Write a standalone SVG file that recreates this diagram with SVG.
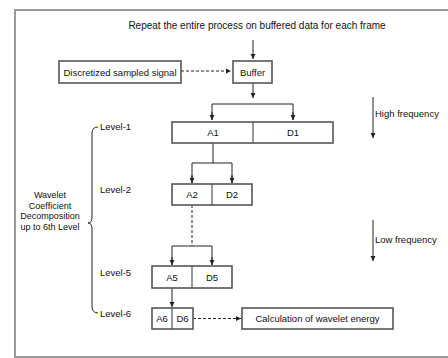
<svg xmlns="http://www.w3.org/2000/svg" width="448" height="358" viewBox="0 0 448 358">
<defs>
<style>
.t{font-family:"Liberation Sans",Arial,sans-serif;font-size:9.5px;fill:#111;}
.c{text-anchor:middle;}
.box{fill:#fff;stroke:#555;stroke-width:1.6;}
.ln{fill:none;stroke:#222;stroke-width:1;}
.dash{fill:none;stroke:#222;stroke-width:1;stroke-dasharray:3,2;}
</style>
<marker id="ah" markerWidth="6" markerHeight="6" refX="5" refY="3" orient="auto" markerUnits="userSpaceOnUse">
<path d="M0,0.5 L5,3 L0,5.5 Z" fill="#222"/>
</marker>
</defs>
<rect x="0" y="0" width="448" height="358" fill="#fff"/>
<rect x="15" y="10" width="440" height="347" fill="#fff" stroke="#999" stroke-width="2"/>

<g id="connectors">
<line class="ln" x1="253" y1="40" x2="253" y2="59" marker-end="url(#ah)"/>
<line class="dash" x1="181" y1="71" x2="231" y2="71" marker-end="url(#ah)"/>
<line class="ln" x1="253" y1="83" x2="253" y2="98" marker-end="url(#ah)"/>
<polyline class="ln" points="212,120 212,104 293,104 293,120"/>
<line class="ln" x1="212" y1="112" x2="212" y2="120" marker-end="url(#ah)"/>
<line class="ln" x1="293" y1="112" x2="293" y2="120" marker-end="url(#ah)"/>
<line class="ln" x1="213" y1="143" x2="213" y2="163"/>
<polyline class="ln" points="192,183 192,163 232,163 232,183"/>
<line class="ln" x1="192" y1="175" x2="192" y2="183" marker-end="url(#ah)"/>
<line class="ln" x1="232" y1="175" x2="232" y2="183" marker-end="url(#ah)"/>
<line class="dash" x1="192" y1="205" x2="192" y2="246"/>
<polyline class="ln" points="172,265 172,246 212,246 212,265"/>
<line class="ln" x1="172" y1="257" x2="172" y2="265" marker-end="url(#ah)"/>
<line class="ln" x1="212" y1="257" x2="212" y2="265" marker-end="url(#ah)"/>
<line class="ln" x1="172" y1="288" x2="172" y2="307" marker-end="url(#ah)"/>
<line class="dash" x1="193" y1="318.5" x2="241" y2="318.5" marker-end="url(#ah)"/>
<line class="ln" x1="373" y1="97" x2="373" y2="138" marker-end="url(#ah)"/>
<line class="ln" x1="373" y1="220" x2="373" y2="261" marker-end="url(#ah)"/>
<path class="ln" d="M98,127 Q92,127 92,133 L92,217 Q92,223 88,223 Q92,223 92,229 L92,306 Q92,313 98,313"/>
</g>

<text class="t c" style="font-size:10px" x="257" y="29">Repeat the entire process on buffered data for each frame</text>

<g id="discretized">
<rect class="box" x="59" y="61" width="122" height="22"/>
<text class="t c" x="120" y="75.5">Discretized sampled signal</text>
</g>
<g id="buffer">
<rect class="box" x="233" y="61" width="39" height="22"/>
<text class="t c" x="252.5" y="75.5">Buffer</text>
</g>
<g id="level1">
<rect class="box" x="172" y="122" width="161" height="21"/>
<line x1="253" y1="122" x2="253" y2="143" stroke="#555" stroke-width="1.2"/>
<text class="t c" x="213" y="136">A1</text>
<text class="t c" x="293" y="136">D1</text>
</g>
<g id="level2">
<rect class="box" x="172" y="184" width="80" height="21"/>
<line x1="212" y1="184" x2="212" y2="205" stroke="#555" stroke-width="1.2"/>
<text class="t c" x="192" y="198">A2</text>
<text class="t c" x="232" y="198">D2</text>
</g>
<g id="level5">
<rect class="box" x="152" y="266" width="80" height="22"/>
<line x1="192" y1="266" x2="192" y2="288" stroke="#555" stroke-width="1.2"/>
<text class="t c" x="172" y="280.5">A5</text>
<text class="t c" x="212" y="280.5">D5</text>
</g>
<g id="level6">
<rect class="box" x="152" y="308" width="41" height="21"/>
<line x1="172" y1="308" x2="172" y2="329" stroke="#555" stroke-width="1.2"/>
<text class="t c" x="162" y="322">A6</text>
<text class="t c" x="182.5" y="322">D6</text>
</g>
<g id="energy">
<rect class="box" x="242" y="308" width="151" height="21"/>
<text class="t c" x="317.5" y="322">Calculation of wavelet energy</text>
</g>

<g id="labels">
<text class="t" x="100" y="130">Level-1</text>
<text class="t" x="100" y="193">Level-2</text>
<text class="t" x="100" y="276">Level-5</text>
<text class="t" x="100" y="317">Level-6</text>
<text class="t" x="375" y="117">High frequency</text>
<text class="t" x="375" y="243">Low frequency</text>
<text class="t c" style="font-size:9px" x="50" y="198">Wavelet</text>
<text class="t c" style="font-size:9px" x="50" y="208.5">Coefficient</text>
<text class="t c" style="font-size:9px" x="50" y="219">Decomposition</text>
<text class="t c" style="font-size:9px" x="50" y="229.5">up to 6th Level</text>
</g>
</svg>
